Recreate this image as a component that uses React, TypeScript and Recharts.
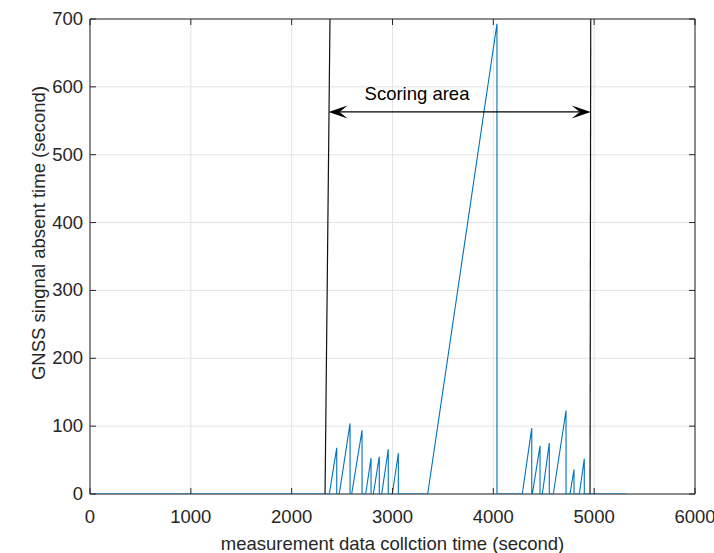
import React from "react";
import {
  LineChart,
  Line,
  XAxis,
  YAxis,
  CartesianGrid,
  ReferenceArea,
  ReferenceLine,
  ReferenceDot,
} from "recharts";

// ---- Data ----
const xTicks = [0, 1000, 2000, 3000, 4000, 5000, 6000];
const yTicks = [0, 100, 200, 300, 400, 500, 600, 700];

// sawtooth: each tooth starts at 0, ramps to the peak, drops back to 0
const rampStartTimes = [2373, 2472, 2595, 2734, 2810, 2893, 2998, 3349, 4287, 4387, 4486, 4595, 4760, 4853];
const peakTimes = [2447, 2579, 2698, 2787, 2869, 2958, 3058, 4036, 4381, 4463, 4555, 4721, 4800, 4902];
const peakValues = [68, 104, 94, 53, 55, 66, 60, 693, 97, 71, 75, 123, 36, 52];
const seriesStartTime = 0;
const seriesEndTime = 5322;

// scoring-area boundary lines
const leftBoundaryTimes = [2331, 2380];
const rightBoundaryTimes = [4959, 4966];
const boundaryValues = [0, 700];

// arrow + annotation
const arrowTimes = [2366, 4966];
const arrowValue = 563;
const annotationText = "Scoring area";
const annotationTime = 3243;
const annotationValue = 581;

const xLabel = "measurement data collction time (second)";
const yLabel = "GNSS singnal absent time (second)";

// ---- Built tables ----
const signalData: { t: number; v: number }[] = [{ t: seriesStartTime, v: 0 }];
rampStartTimes.forEach((s, i) => {
  signalData.push({ t: s, v: 0 });
  signalData.push({ t: peakTimes[i], v: peakValues[i] });
  signalData.push({ t: peakTimes[i], v: 0 });
});
signalData.push({ t: seriesEndTime, v: 0 });

const leftBoundary = leftBoundaryTimes.map((t, i) => ({ t, v: boundaryValues[i] }));
const rightBoundary = rightBoundaryTimes.map((t, i) => ({ t, v: boundaryValues[i] }));

// ---- Layout ----
const W = 714;
const H = 553;
const M = { top: 19, right: 19, bottom: 0, left: 0 };
const Y_AXIS_W = 90;
const X_AXIS_H = 59;
const PLOT_W = W - M.left - Y_AXIS_W - M.right;
const PLOT_H = H - M.top - X_AXIS_H - M.bottom;
const FONT = "'Liberation Sans', Arial, Helvetica, sans-serif";
const FS = 18.5;
const TEXT_COLOR = "#262626";
const AXIS_COLOR = "#262626";
const TICK_LEN = 6;

const XTick = (props: any) => {
  const { x, y, payload } = props;
  return (
    <g>
      <line x1={x} x2={x} y1={y} y2={y - TICK_LEN} stroke={AXIS_COLOR} strokeWidth={1} />
      <line x1={x} x2={x} y1={y - PLOT_H} y2={y - PLOT_H + TICK_LEN} stroke={AXIS_COLOR} strokeWidth={1} />
      <text x={x} y={y + 29} textAnchor="middle" fontSize={FS} fontFamily={FONT} fill={TEXT_COLOR}>
        {payload.value}
      </text>
    </g>
  );
};

const YTick = (props: any) => {
  const { x, y, payload } = props;
  return (
    <g>
      <line x1={x} x2={x + TICK_LEN} y1={y} y2={y} stroke={AXIS_COLOR} strokeWidth={1} />
      <line x1={x + PLOT_W} x2={x + PLOT_W - TICK_LEN} y1={y} y2={y} stroke={AXIS_COLOR} strokeWidth={1} />
      <text x={x - 7} y={y + 6} textAnchor="end" fontSize={FS} fontFamily={FONT} fill={TEXT_COLOR}>
        {payload.value}
      </text>
    </g>
  );
};

const ArrowShape = (props: any) => {
  const { x1, y1, x2, y2 } = props;
  const y = (y1 + y2) / 2;
  const L = 19;
  const hw = 6.5;
  const notch = 11;
  const left = `${x1},${y} ${x1 + L},${y - hw} ${x1 + notch},${y} ${x1 + L},${y + hw}`;
  const right = `${x2},${y} ${x2 - L},${y - hw} ${x2 - notch},${y} ${x2 - L},${y + hw}`;
  return (
    <g>
      <line x1={x1 + notch} x2={x2 - notch} y1={y} y2={y} stroke="#000" strokeWidth={1.3} />
      <polygon points={left} fill="#000" />
      <polygon points={right} fill="#000" />
    </g>
  );
};

const AnnotationShape = (props: any) => {
  const { cx, cy } = props;
  return (
    <text x={cx} y={cy} textAnchor="middle" fontSize={FS} fontFamily={FONT} fill="#000">
      {annotationText}
    </text>
  );
};

const YLabel = () => {
  const cx = 45;
  const cy = 233;
  return (
    <text
      x={cx}
      y={cy}
      transform={`rotate(-90, ${cx}, ${cy})`}
      textAnchor="middle"
      fontSize={FS}
      fontFamily={FONT}
      fill={TEXT_COLOR}
    >
      {yLabel}
    </text>
  );
};

const XLabel = (props: any) => {
  const { viewBox } = props;
  const cx = viewBox.x + viewBox.width / 2;
  return (
    <text x={cx} y={550} textAnchor="middle" fontSize={FS} fontFamily={FONT} fill={TEXT_COLOR}>
      {xLabel}
    </text>
  );
};

export default function App() {
  return (
    <div style={{ position: "absolute", left: 0, top: 0, width: W, height: H, background: "#fff" }}>
      <LineChart width={W} height={H} margin={M}>
        <CartesianGrid stroke="#e4e4e4" strokeWidth={1} />
        <XAxis
          type="number"
          dataKey="t"
          domain={[0, 6000]}
          ticks={xTicks}
          allowDataOverflow
          axisLine={false}
          tickLine={false}
          tickSize={0}
          tickMargin={0}
          tick={<XTick />}
          height={X_AXIS_H}
          label={<XLabel />}
          interval={0}
        />
        <YAxis
          type="number"
          dataKey="v"
          domain={[0, 700]}
          ticks={yTicks}
          allowDataOverflow
          axisLine={false}
          tickLine={false}
          tickSize={0}
          tickMargin={0}
          tick={<YTick />}
          width={Y_AXIS_W}
          label={<YLabel />}
          interval={0}
        />
        <ReferenceArea x1={0} x2={6000} y1={0} y2={700} fill="none" stroke={AXIS_COLOR} strokeWidth={1} />
        <Line
          data={leftBoundary}
          dataKey="v"
          type="linear"
          stroke="#111"
          strokeWidth={1.2}
          dot={false}
          activeDot={false}
          isAnimationActive={false}
        />
        <Line
          data={rightBoundary}
          dataKey="v"
          type="linear"
          stroke="#111"
          strokeWidth={1.2}
          dot={false}
          activeDot={false}
          isAnimationActive={false}
        />
        <Line
          data={signalData}
          dataKey="v"
          type="linear"
          stroke="#0072BD"
          strokeWidth={1.1}
          dot={false}
          activeDot={false}
          isAnimationActive={false}
        />
        <ReferenceLine
          segment={[
            { x: arrowTimes[0], y: arrowValue },
            { x: arrowTimes[1], y: arrowValue },
          ]}
          shape={<ArrowShape />}
        />
        <ReferenceDot x={annotationTime} y={annotationValue} r={0} shape={<AnnotationShape />} />
      </LineChart>
    </div>
  );
}
